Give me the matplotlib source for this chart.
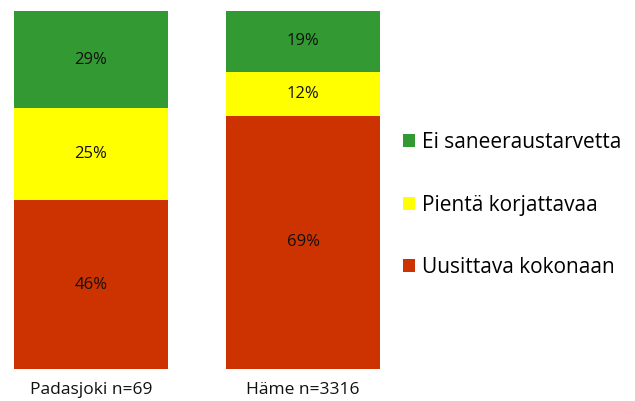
import numpy as np
import matplotlib.pyplot as plt

plt.rcParams['font.family'] = ['Open Sans', 'DejaVu Sans']

groups = ['Padasjoki n=69', 'Häme n=3316']
series = ['Uusittava kokonaan', 'Pientä korjattavaa', 'Ei saneeraustarvetta']
uusittava = [46, 69]
pienta = [25, 12]
ei_tarvetta = [29, 19]
colors = ['#cc3300', '#ffff00', '#339933']

fig = plt.figure(figsize=(6.35, 4.01), dpi=100)
ax = fig.add_axes([14 / 635, 1 - 369 / 401, (380 - 14) / 635, (369 - 11) / 401])

ytop = 97.5
x = np.arange(len(groups))
width = 0.726
bottom = np.zeros(len(groups))
handles = []
for vals, name, col in zip([uusittava, pienta, ei_tarvetta], series, colors):
    vals = np.array(vals, dtype=float)
    b = ax.bar(x, vals, width, bottom=bottom, color=col, label=name)
    handles.append(b)
    for xi, v, bt in zip(x, vals, bottom):
        # centre label on the visible part of the segment
        mid = (bt + min(bt + v, ytop)) / 2
        ax.text(xi, mid, f'{v:.0f}%', ha='center', va='center',
                fontsize=12, color='#111111')
    bottom += vals

ax.set_xlim(-width / 2, 1 + width / 2)
ax.set_ylim(0, ytop)
ax.set_xticks(x)
ax.set_xticklabels(groups, fontsize=12.5, color='#111111')
ax.tick_params(axis='x', length=0, pad=9)
ax.set_yticks([])
for s in ax.spines.values():
    s.set_visible(False)

fig.legend(handles[::-1], series[::-1], loc='upper left',
           bbox_to_anchor=(403 / 635, 1 - 132 / 401), frameon=False,
           fontsize=15, handlelength=0.58, handleheight=0.58,
           handletextpad=0.35, labelspacing=2.0, borderpad=0,
           borderaxespad=0)

fig.savefig('out.png', dpi=100)
